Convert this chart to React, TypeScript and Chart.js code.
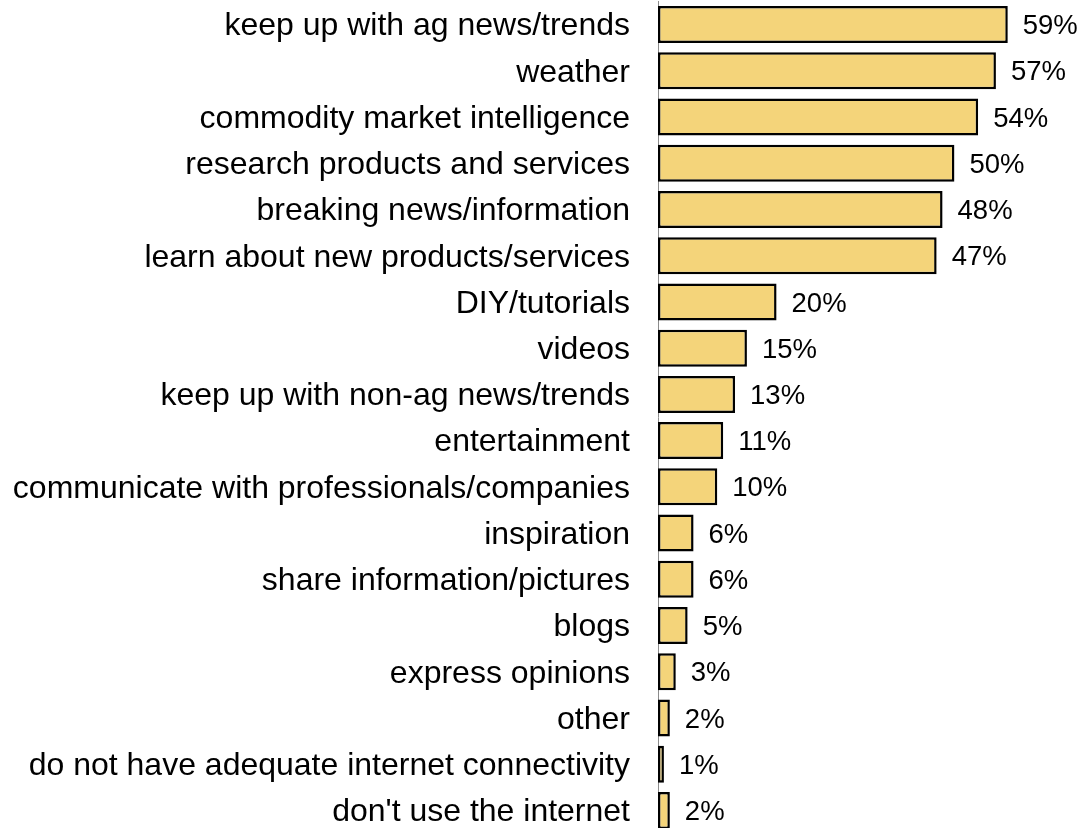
import React, { useEffect, useRef } from "react";
import { Chart, registerables } from "chart.js";

Chart.register(...registerables);

const categories: string[] = [
  "keep up with ag news/trends",
  "weather",
  "commodity market intelligence",
  "research products and services",
  "breaking news/information",
  "learn about new products/services",
  "DIY/tutorials",
  "videos",
  "keep up with non-ag news/trends",
  "entertainment",
  "communicate with professionals/companies",
  "inspiration",
  "share information/pictures",
  "blogs",
  "express opinions",
  "other",
  "do not have adequate internet connectivity",
  "don't use the internet",
];

const values: number[] = [59, 57, 54, 50, 48, 47, 20, 15, 13, 11, 10, 6, 6, 5, 3, 2, 1, 2];

const valueLabels: string[] = values.map((v) => `${v}%`);

const FONT = '"Liberation Sans", Arial, Helvetica, sans-serif';

const valueLabelPlugin = {
  id: "valueLabelPlugin",
  afterDatasetsDraw(chart: any) {
    const ctx = chart.ctx;
    const meta = chart.getDatasetMeta(0);
    ctx.save();
    ctx.font = `27.5px ${FONT}`;
    ctx.fillStyle = "#000000";
    ctx.textAlign = "left";
    ctx.textBaseline = "middle";
    meta.data.forEach((bar: any, i: number) => {
      const p = bar.getProps(["x", "y"], true);
      ctx.fillText(valueLabels[i], p.x + 15, p.y + 2);
    });
    ctx.restore();
  },
};

export default function App() {
  const canvasRef = useRef<HTMLCanvasElement | null>(null);

  useEffect(() => {
    if (!canvasRef.current) return;
    const chart = new Chart(canvasRef.current, {
      type: "bar",
      data: {
        labels: categories,
        datasets: [
          {
            data: values,
            backgroundColor: "#F4D47A",
            borderColor: "#000000",
            borderWidth: 2.5,
            borderSkipped: false,
            barPercentage: 0.8,
            categoryPercentage: 1,
          },
        ],
      },
      options: {
        indexAxis: "y",
        animation: false,
        responsive: true,
        maintainAspectRatio: false,
        layout: { padding: { top: 1.5, bottom: 0.5, left: 0, right: 10 } },
        plugins: {
          legend: { display: false },
          tooltip: { enabled: false },
        },
        scales: {
          x: {
            display: false,
            min: 0,
            max: 70,
          },
          y: {
            afterFit: (scale: any) => {
              scale.width = 658;
              scale.paddingTop = 0;
              scale.paddingBottom = 0;
            },
            grid: { display: false, drawTicks: false },
            border: { display: true, color: "#8c8c8c", width: 1 },
            ticks: {
              autoSkip: false,
              padding: 28,
              labelOffset: 2,
              color: "#000000",
              font: { family: FONT, size: 32 },
            },
          },
        },
      },
      plugins: [valueLabelPlugin],
    });
    return () => chart.destroy();
  }, []);

  return (
    <div
      style={{
        position: "fixed",
        left: 0,
        top: 0,
        width: "1083px",
        height: "834px",
        background: "#ffffff",
      }}
    >
      <canvas ref={canvasRef} />
    </div>
  );
}
